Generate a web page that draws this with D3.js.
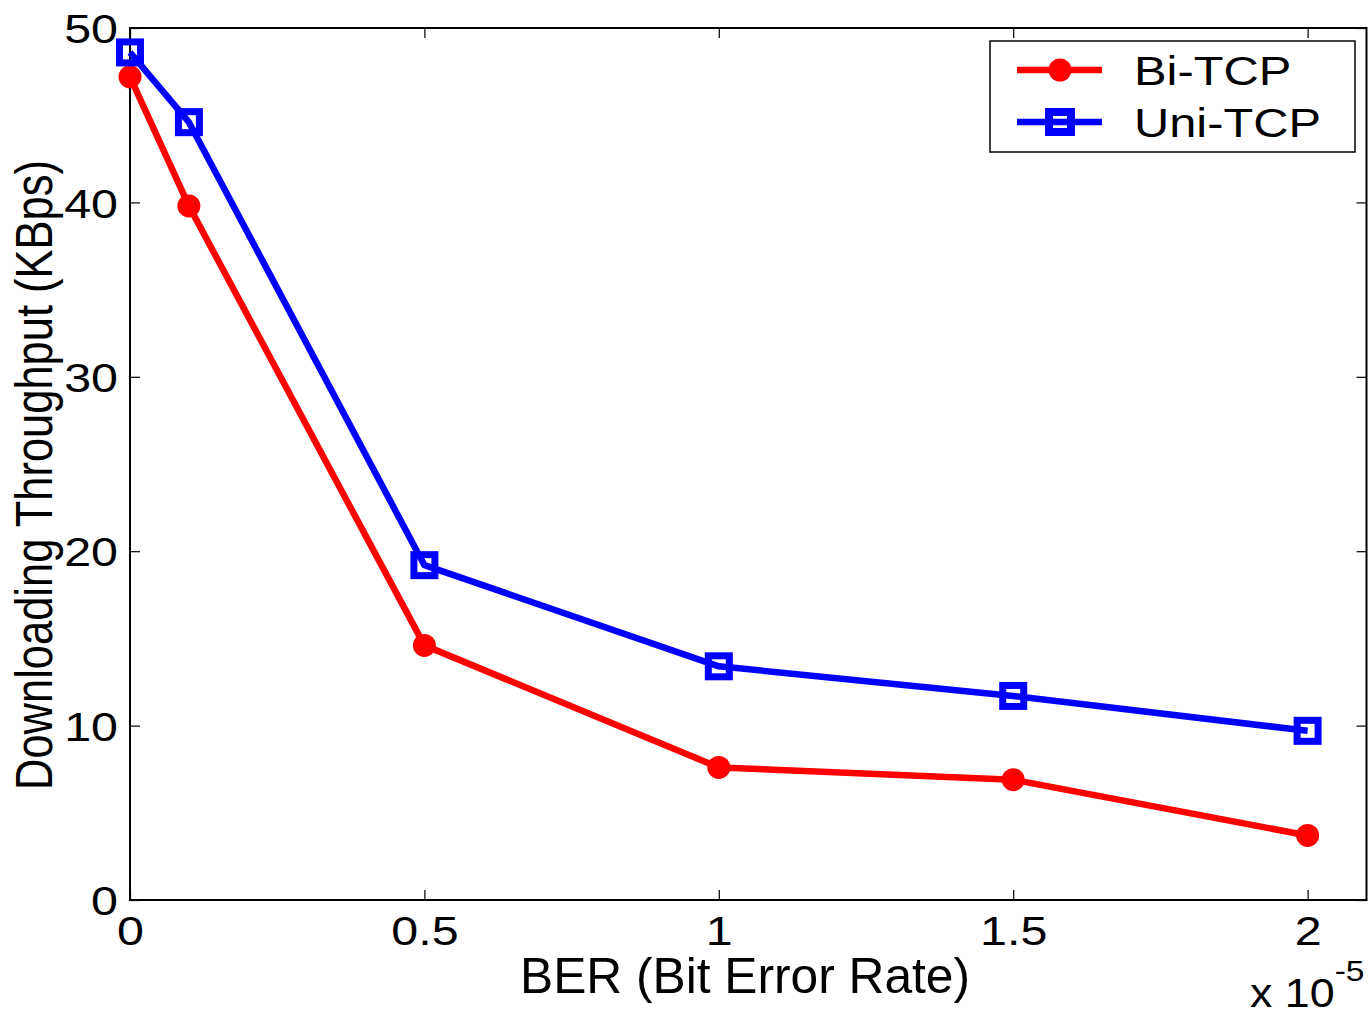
<!DOCTYPE html>
<meta charset="utf-8" />
<title>Throughput vs BER</title>
<style>
  body { margin: 0; background: #fff; }
  svg { display: block; font-family: "Liberation Sans", Arial, sans-serif; }
</style>
<body>
<svg width="1371" height="1016"></svg>
<script src="https://d3js.org/d3.v7.min.js"></script>
<script>
  // values (x in units of 1e-5)
  const ber = [0, 0.1, 0.5, 1, 1.5, 2];
  const biTcp = [47.2, 39.8, 14.6, 7.6, 6.9, 3.7];
  const uniTcp = [48.6, 44.6, 19.2, 13.4, 11.7, 9.7];
  const xTicks = [0, 0.5, 1, 1.5, 2];
  const yTicks = [0, 10, 20, 30, 40, 50];
  const seriesNames = ["Bi-TCP", "Uni-TCP"];

  const svg = d3.select("svg");
  const margin = { left: 130, right: 4.5, top: 28, bottom: 116 };
  const W = 1371, H = 1016;

  const x = d3.scaleLinear().domain([0, 2.1]).range([margin.left, W - margin.right]);
  const y = d3.scaleLinear().domain([0, 50]).range([H - margin.bottom, margin.top]);

  const tickLen = 10;
  const tickFont = 41;
  const wide = 1.18; // original text is a bit stretched sideways

  // widen text horizontally around its x position
  function widen(sel, k) {
    sel.each(function () {
      const t = d3.select(this);
      const x0 = +t.attr("x") || 0;
      t.attr("x", x0 / k).attr("transform", `scale(${k},1)`);
    });
  }

  // frame
  svg.append("rect")
    .attr("x", x(0)).attr("y", y(50))
    .attr("width", x(2.1) - x(0)).attr("height", y(0) - y(50))
    .attr("fill", "none").attr("stroke", "#000").attr("stroke-width", 2);

  // axes with inward ticks
  const xAxis = svg.append("g").attr("transform", `translate(0,${y(0)})`)
    .call(d3.axisBottom(x).tickValues(xTicks).tickSize(-tickLen).tickFormat(d => d3.format("")(d)));
  const xTop = svg.append("g").attr("transform", `translate(0,${y(50)})`)
    .call(d3.axisTop(x).tickValues(xTicks).tickSize(-tickLen).tickFormat(""));
  const yAxis = svg.append("g").attr("transform", `translate(${x(0)},0)`)
    .call(d3.axisLeft(y).tickValues(yTicks).tickSize(-tickLen).tickPadding(12));
  const yRight = svg.append("g").attr("transform", `translate(${x(2.1)},0)`)
    .call(d3.axisRight(y).tickValues(yTicks).tickSize(-tickLen).tickFormat(""));

  [xAxis, xTop, yAxis, yRight].forEach(g => {
    g.select(".domain").remove();
    g.selectAll(".tick line").attr("stroke", "#000").attr("stroke-width", 1.2);
    g.selectAll("text").attr("font-size", tickFont).attr("fill", "#000")
      .attr("font-family", "Liberation Sans, Arial, sans-serif");
  });
  xAxis.selectAll("text").attr("dy", null).attr("y", 945 - y(0));
  yAxis.selectAll("text").attr("dy", "0.36em");
  widen(xAxis.selectAll("text"), wide);
  widen(yAxis.selectAll("text"), wide);

  // axis labels
  svg.append("text")
    .attr("x", 745).attr("y", 993)
    .attr("text-anchor", "middle").attr("font-size", 50)
    .attr("textLength", 450).attr("lengthAdjust", "spacingAndGlyphs")
    .text("BER (Bit Error Rate)");
  svg.append("text")
    .attr("transform", `translate(52,475) rotate(-90)`)
    .attr("text-anchor", "middle").attr("font-size", 51)
    .attr("textLength", 630).attr("lengthAdjust", "spacingAndGlyphs")
    .text("Downloading Throughput (KBps)");
  const mult = svg.append("g").attr("transform", "translate(1250,1007) scale(1.12,1)");
  const multText = mult.append("text").attr("font-size", 40);
  multText.append("tspan").text("x 10");
  multText.append("tspan").attr("dy", -26).attr("font-size", 30).text("-5");

  const line = d3.line().x(d => x(d[0])).y(d => y(d[1]));
  const biPts = ber.map((b, i) => [b, biTcp[i]]);
  const uniPts = ber.map((b, i) => [b, uniTcp[i]]);
  const lw = 6.5;

  // Bi-TCP
  svg.append("path").datum(biPts).attr("d", line)
    .attr("fill", "none").attr("stroke", "#ff0000").attr("stroke-width", lw)
    .attr("stroke-linejoin", "round");
  svg.append("g").selectAll("circle").data(biPts).join("circle")
    .attr("cx", d => x(d[0])).attr("cy", d => y(d[1])).attr("r", 11.5)
    .attr("fill", "#ff0000");

  // Uni-TCP
  const sq = 21;
  svg.append("path").datum(uniPts).attr("d", line)
    .attr("fill", "none").attr("stroke", "#0000ff").attr("stroke-width", lw)
    .attr("stroke-linejoin", "round");
  svg.append("g").selectAll("rect").data(uniPts).join("rect")
    .attr("x", d => x(d[0]) - sq / 2).attr("y", d => y(d[1]) - sq / 2)
    .attr("width", sq).attr("height", sq)
    .attr("fill", "none").attr("stroke", "#0000ff").attr("stroke-width", 7);

  // legend
  const leg = svg.append("g");
  leg.append("rect").attr("x", 990).attr("y", 41).attr("width", 365).attr("height", 111)
    .attr("fill", "#fff").attr("stroke", "#000").attr("stroke-width", 1.5);
  const colors = ["#ff0000", "#0000ff"];
  seriesNames.forEach((name, i) => {
    const ly = 70 + i * 52;
    leg.append("line").attr("x1", 1017).attr("x2", 1102).attr("y1", ly).attr("y2", ly)
      .attr("stroke", colors[i]).attr("stroke-width", lw);
    if (i === 0) {
      leg.append("circle").attr("cx", 1060).attr("cy", ly).attr("r", 11.5).attr("fill", colors[i]);
    } else {
      leg.append("rect").attr("x", 1060 - 11).attr("y", ly - 10)
        .attr("width", 22).attr("height", 20)
        .attr("fill", "none").attr("stroke", colors[i]).attr("stroke-width", 8);
    }
    leg.append("g").attr("transform", `translate(1134,${ly + 15}) scale(1.22,1)`)
      .append("text").attr("font-size", 40).text(name);
  });
</script>
</body>
